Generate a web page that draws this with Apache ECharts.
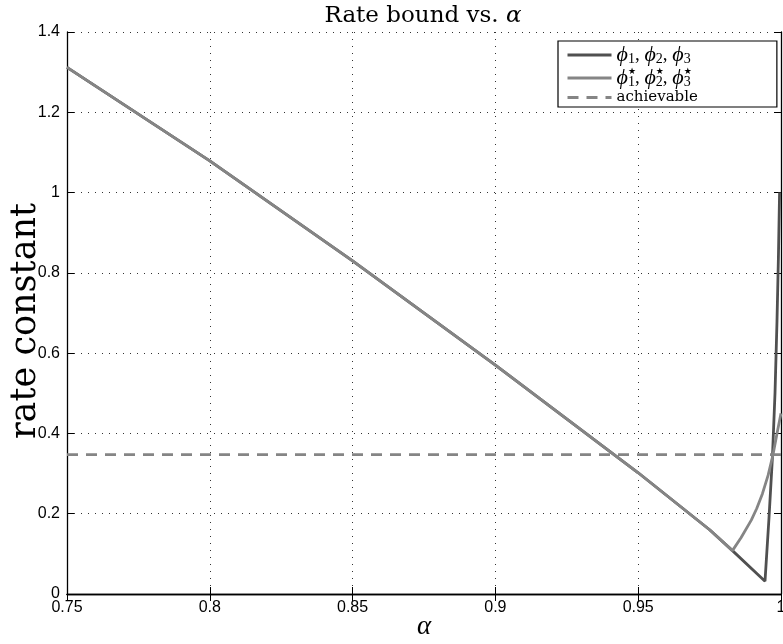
<!DOCTYPE html>
<html><head><meta charset="utf-8">
<script src="https://cdn.jsdelivr.net/npm/echarts@6/dist/echarts.min.js"></script>
<style>html,body{margin:0;padding:0;background:#fff}#c{width:783px;height:644px}</style>
</head><body><div id="c"></div>
<script>
// ---- data ----
const xMin = 0.75, xMax = 1.0, xStep = 0.05;
const yMin = 0, yMax = 1.4, yStep = 0.2;
const seriesNames = ['phi', 'phiStar', 'achievable'];

const phiAlpha = [0.75, 0.80, 0.85, 0.90, 0.95, 0.975, 0.983, 0.9944, 0.9958, 0.9970, 0.9979, 0.9986, 0.9991, 0.9995];
const phiRate  = [1.312, 1.079, 0.830, 0.570, 0.302, 0.160, 0.108, 0.032, 0.190, 0.340, 0.500, 0.680, 0.840, 1.000];

const phiStarAlpha = [0.75, 0.80, 0.85, 0.90, 0.95, 0.975, 0.983, 0.986, 0.9896, 0.9915, 0.9935, 0.9955, 0.9972, 0.9986, 1.0];
const phiStarRate  = [1.312, 1.079, 0.830, 0.570, 0.302, 0.160, 0.108, 0.140, 0.184, 0.213, 0.250, 0.296, 0.347, 0.400, 0.450];

const achievableAlpha = [0.75, 1.0];
const achievableRate  = [0.347, 0.347];

// ---- build ----
const pairs = (xs, ys) => xs.map((x, i) => [x, ys[i]]);
const serif = '"Liberation Serif", "DejaVu Serif", serif';
const wideSerif = '"DejaVu Serif", "Liberation Serif", serif';
const sans = '"Liberation Sans", Arial, sans-serif';

const chart = echarts.init(document.getElementById('c'), null, {renderer: 'canvas'});

const legendRich = {
  v: {fontFamily: serif, fontStyle: 'italic', fontSize: 22, lineHeight: 22, verticalAlign: 'middle', color: '#000'},
  c: {fontFamily: serif, fontSize: 19, lineHeight: 22, verticalAlign: 'middle', color: '#000'},
  s: {fontFamily: serif, fontSize: 14, lineHeight: 12, verticalAlign: 'bottom', color: '#000'},
  p: {fontFamily: '"DejaVu Sans", sans-serif', fontSize: 9, lineHeight: 10, verticalAlign: 'top', color: '#000', width: 0.001},
  t: {fontFamily: wideSerif, fontSize: 15, lineHeight: 20, verticalAlign: 'middle', color: '#000'}
};

function legendText(name) {
  if (name === 'phi') return '{v|ϕ}{s|1}{c|, }{v|ϕ}{s|2}{c|, }{v|ϕ}{s|3}';
  if (name === 'phiStar') return '{v|ϕ}{p|★}{s|1}{c|, }{v|ϕ}{p|★}{s|2}{c|, }{v|ϕ}{p|★}{s|3}';
  return '{t|achievable}';
}

const axisLine = {show: true, lineStyle: {color: '#000', width: 1.3}};
const tick = {show: true, inside: true, length: 7, lineStyle: {color: '#000', width: 1}};

const option = {
  animation: false,
  backgroundColor: '#fff',
  title: {
    text: '{a|Rate bound vs. }{b|α}',
    left: 418, top: 0, textAlign: 'center',
    textStyle: {rich: {
      a: {fontFamily: wideSerif, fontWeight: 'normal', fontSize: 23, color: '#000'},
      b: {fontFamily: wideSerif, fontStyle: 'italic', fontWeight: 'normal', fontSize: 23, color: '#000'}
    }}
  },
  grid: {left: 67, right: 2, top: 32, bottom: 50, containLabel: false, outerBoundsMode: 'none'},
  legend: {
    data: seriesNames,
    orient: 'vertical',
    left: 558, top: 41,
    padding: [3, 79, 2, 8],
    itemWidth: 44, itemHeight: 14, itemGap: 1,
    backgroundColor: '#fff',
    borderColor: '#000', borderWidth: 1.2, borderRadius: 0,
    itemStyle: {opacity: 0},
    lineStyle: {width: 3},
    formatter: legendText,
    textStyle: {rich: legendRich}
  },
  xAxis: [{
    type: 'value', min: xMin, max: xMax, interval: xStep, position: 'bottom',
    name: 'α', nameLocation: 'middle', nameGap: 19, nameMoveOverlap: false,
    nameTextStyle: {fontFamily: serif, fontStyle: 'italic', fontSize: 27, color: '#000'},
    axisLine: axisLine, axisTick: tick,
    axisLabel: {fontFamily: sans, fontSize: 16, color: '#000', margin: 6},
    splitLine: {show: true, lineStyle: {color: '#333', width: 1, type: [1, 6]}}
  }, {
    type: 'value', min: xMin, max: xMax, interval: xStep, position: 'top',
    axisLine: axisLine, axisTick: tick,
    axisLabel: {show: false}, splitLine: {show: false}
  }],
  yAxis: [{
    type: 'value', min: yMin, max: yMax, interval: yStep, position: 'left',
    name: 'rate constant', nameLocation: 'middle', nameGap: 24, nameMoveOverlap: false,
    nameTextStyle: {fontFamily: wideSerif, fontSize: 35, color: '#000', padding: [0, 16, 0, 0]},
    axisLine: axisLine, axisTick: tick,
    axisLabel: {fontFamily: sans, fontSize: 16, color: '#000', margin: 7},
    splitLine: {show: true, lineStyle: {color: '#333', width: 1, type: [1, 6]}}
  }, {
    type: 'value', min: yMin, max: yMax, interval: yStep, position: 'right',
    axisLine: axisLine, axisTick: tick,
    axisLabel: {show: false}, splitLine: {show: false}
  }],
  series: [{
    name: 'phi', type: 'line', symbol: 'none', xAxisIndex: 0, yAxisIndex: 0,
    data: pairs(phiAlpha, phiRate),
    lineStyle: {color: '#505050', width: 2.8}, itemStyle: {color: '#505050'}, z: 2
  }, {
    name: 'phiStar', type: 'line', symbol: 'none', xAxisIndex: 0, yAxisIndex: 0,
    data: pairs(phiStarAlpha, phiStarRate),
    lineStyle: {color: '#858585', width: 2.8}, itemStyle: {color: '#858585'}, z: 3
  }, {
    name: 'achievable', type: 'line', symbol: 'none', xAxisIndex: 0, yAxisIndex: 0,
    data: pairs(achievableAlpha, achievableRate),
    lineStyle: {color: '#858585', width: 2.8, type: [11, 8]}, itemStyle: {color: '#858585'}, z: 4
  }]
};
chart.setOption(option);
</script>
</body></html>
